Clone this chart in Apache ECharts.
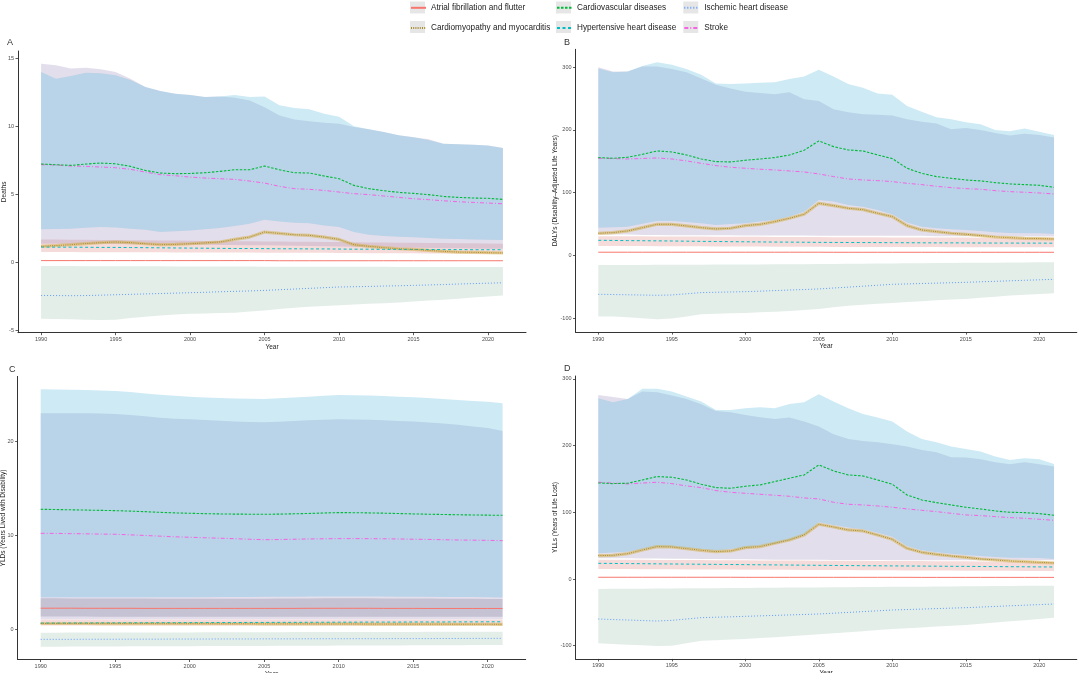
<!DOCTYPE html>
<html>
<head>
<meta charset="utf-8">
<script src="https://cdn.jsdelivr.net/npm/echarts@6/dist/echarts.min.js"></script>
<style>
  html, body { margin: 0; padding: 0; background: #fff; }
  #chart { width: 1080px; height: 673px; }
</style>
</head>
<body>
<div id="chart"></div>
<script>
const years = [1990,1991,1992,1993,1994,1995,1996,1997,1998,1999,2000,2001,2002,2003,2004,2005,2006,2007,2008,2009,2010,2011,2012,2013,2014,2015,2016,2017,2018,2019,2020,2021];
const xTicks = [1990, 1995, 2000, 2005, 2010, 2015, 2020];

const causes = ['Atrial fibrillation and flutter', 'Cardiomyopathy and myocarditis', 'Cardiovascular diseases',
  'Hypertensive heart disease', 'Ischemic heart disease', 'Stroke'];

// A: Deaths
const aAtrial = [0.13,0.13,0.13,0.13,0.13,0.13,0.13,0.13,0.13,0.13,0.13,0.13,0.13,0.13,0.13,0.13,0.12,0.12,0.12,0.12,0.12,0.12,0.12,0.12,0.12,0.12,0.12,0.12,0.12,0.12,0.12,0.12];
const aCardio = [1.18,1.24,1.30,1.38,1.45,1.50,1.45,1.37,1.30,1.32,1.37,1.43,1.50,1.69,1.86,2.23,2.13,2.03,1.99,1.86,1.69,1.30,1.18,1.08,1.00,0.96,0.88,0.81,0.76,0.74,0.71,0.69];
const aCvd = [7.23,7.18,7.13,7.23,7.30,7.25,7.06,6.76,6.57,6.52,6.54,6.59,6.69,6.81,6.81,7.08,6.81,6.59,6.57,6.35,6.15,5.66,5.42,5.27,5.15,5.07,4.98,4.85,4.78,4.73,4.71,4.63];
const aHyp = [1.13,1.12,1.12,1.11,1.10,1.10,1.09,1.08,1.07,1.06,1.05,1.04,1.03,1.02,1.02,1.01,1.00,1.00,0.99,0.99,0.98,0.97,0.97,0.96,0.96,0.95,0.95,0.94,0.94,0.93,0.93,0.93];
const aIsch = [-2.43,-2.44,-2.45,-2.44,-2.41,-2.38,-2.35,-2.32,-2.29,-2.26,-2.23,-2.20,-2.16,-2.13,-2.10,-2.06,-2.01,-1.96,-1.91,-1.86,-1.81,-1.79,-1.77,-1.74,-1.72,-1.69,-1.66,-1.63,-1.59,-1.56,-1.53,-1.50];
const aStroke = [7.18,7.16,7.08,7.06,7.01,6.96,6.84,6.64,6.45,6.37,6.27,6.20,6.15,6.10,5.98,5.83,5.59,5.42,5.37,5.29,5.17,5.05,4.98,4.88,4.78,4.68,4.61,4.53,4.46,4.41,4.36,4.31];
const aCvdHi = [14.0,13.5,13.7,13.95,13.9,13.75,13.4,12.9,12.6,12.4,12.3,12.15,12.2,12.3,12.15,12.2,11.55,11.35,11.25,10.93,10.7,10.0,9.78,9.58,9.34,9.2,9.0,8.73,8.68,8.65,8.6,8.4];
const aCvdLo = [2.43,2.45,2.48,2.54,2.60,2.57,2.48,2.40,2.23,2.28,2.35,2.44,2.52,2.67,2.84,3.14,3.01,2.92,2.87,2.72,2.60,2.23,2.03,1.94,1.89,1.84,1.79,1.74,1.72,1.69,1.67,1.64];
const aStrokeHi = [14.6,14.5,14.25,14.3,14.2,14.0,13.5,12.9,12.6,12.4,12.3,12.15,12.2,12.1,11.9,11.4,10.8,10.5,10.37,10.27,10.2,9.95,9.78,9.58,9.34,9.2,9.05,8.73,8.68,8.65,8.6,8.4];
const aStrokeLo = [1.37,1.37,1.36,1.36,1.35,1.35,1.34,1.33,1.32,1.31,1.30,1.29,1.28,1.27,1.26,1.25,1.24,1.22,1.20,1.18,1.16,1.14,1.12,1.10,1.08,1.07,1.05,1.04,1.03,1.02,1.01,1.00];
const aHypHi = [1.69,1.68,1.67,1.66,1.65,1.64,1.63,1.62,1.61,1.60,1.59,1.58,1.57,1.56,1.55,1.54,1.53,1.52,1.51,1.50,1.49,1.48,1.47,1.46,1.45,1.44,1.43,1.42,1.41,1.40,1.38,1.37];
const aHypLo = [0.76,0.76,0.76,0.75,0.75,0.75,0.74,0.74,0.74,0.73,0.73,0.73,0.72,0.72,0.72,0.71,0.71,0.70,0.70,0.70,0.69,0.69,0.68,0.68,0.67,0.67,0.66,0.66,0.65,0.65,0.64,0.64];
const aIschHi = [-0.27,-0.27,-0.27,-0.28,-0.28,-0.28,-0.29,-0.29,-0.29,-0.30,-0.30,-0.30,-0.31,-0.31,-0.31,-0.32,-0.32,-0.32,-0.32,-0.33,-0.33,-0.33,-0.33,-0.33,-0.34,-0.34,-0.34,-0.34,-0.34,-0.34,-0.34,-0.34];
const aIschLo = [-4.14,-4.16,-4.19,-4.22,-4.23,-4.22,-4.09,-4.00,-3.90,-3.83,-3.77,-3.75,-3.72,-3.70,-3.62,-3.53,-3.43,-3.33,-3.27,-3.21,-3.16,-3.10,-3.05,-3.00,-2.95,-2.87,-2.80,-2.74,-2.67,-2.59,-2.51,-2.43];

// B: DALYs
const bAtrial = [4.9,4.9,4.9,4.9,4.9,4.9,4.9,4.9,4.9,4.9,4.9,4.9,4.9,4.9,4.9,4.9,4.8,4.8,4.8,4.8,4.8,4.8,4.8,4.8,4.8,4.8,4.8,4.8,4.8,4.8,4.8,4.8];
const bCardio = [35.1,36.2,38.8,44.1,49.4,49.4,46.8,44.1,42.0,43.1,47.3,49.4,53.7,59.0,65.4,82.9,79.2,75.0,72.8,67.0,61.7,47.3,40.4,37.7,35.1,33.5,31.4,29.2,28.2,27.1,26.6,26.0];
const bCvd = [155.8,154.7,156.3,161.0,166.4,164.8,160.0,153.6,149.4,148.9,151.5,153.6,155.8,160.0,167.5,182.4,173.3,168.0,166.4,160.0,154.2,138.8,130.8,125.5,122.8,120.1,118.6,115.9,113.8,112.7,111.6,108.5];
const bHyp = [23.9,23.7,23.4,23.2,23.0,22.8,22.5,22.2,22.0,21.7,21.5,21.3,21.1,21.0,20.8,20.6,20.5,20.4,20.3,20.2,20.1,20.0,19.9,19.8,19.8,19.7,19.6,19.5,19.5,19.4,19.4,19.3];
const bIsch = [-62.2,-62.6,-63.0,-63.4,-63.8,-63.3,-61.4,-59.5,-59.0,-58.5,-58.0,-57.2,-56.3,-55.4,-54.6,-53.7,-52.2,-50.8,-49.3,-47.8,-46.3,-45.7,-45.0,-44.4,-43.8,-43.1,-42.3,-41.5,-40.7,-39.9,-39.1,-38.3];
const bStroke = [154.7,154.2,153.6,154.4,155.2,153.6,150.5,146.7,143.0,140.4,138.8,137.2,136.1,134.5,132.9,129.7,125.5,121.7,120.1,119.1,117.5,114.8,112.7,110.0,107.9,106.3,105.3,103.1,101.5,100.5,99.4,97.8];
const bCvdHi = [298,292,293,302,308,304,297,288,274,273,274,275,276,281,285,296,285,273,267,258,256,238,229,220,217,212,209,200,198,202,197,192];
const bCvdLo = [44.1,44.9,45.7,50.2,54.8,54.8,53.0,51.0,48.4,49.7,51.0,53.7,56.4,61.7,69.6,88.3,85.6,80.3,77.6,72.3,65.4,52.1,45.7,43.1,41.5,40.4,38.8,36.7,35.6,35.1,35.1,34.0];
const bStrokeHi = [300,293,293,301,301,297,292,282,272,266,261,259,257,260,249,246,233,228,225,224,223,217,213,210,201,203,200,195,191,194,192,188];
const bStrokeLo = [33,33,33,32.5,32.5,32,32,32,32,32,31.5,31.5,31.5,31.5,31.5,31,31,31,31,31,31,31,31,30.5,30.5,30.5,30.5,30,30,30,30,30];
const bHypHi = [30.5,30.4,30.3,30.2,30.1,30.0,29.9,29.8,29.7,29.6,29.5,29.4,29.3,29.2,29.1,29.0,28.9,28.8,28.7,28.6,28.5,28.4,28.3,28.3,28.2,28.2,28.1,28.1,28.0,28.0,28.0,28.0];
const bHypLo = [15.0,14.9,14.8,14.7,14.6,14.5,14.4,14.3,14.2,14.1,14.0,13.9,13.8,13.7,13.6,13.5,13.4,13.4,13.3,13.3,13.2,13.2,13.1,13.1,13.0,13.0,12.9,12.9,12.8,12.8,12.8,12.8];
const bIschHi = [-15.4,-15.4,-15.3,-15.3,-15.2,-15.1,-15.0,-14.9,-14.8,-14.7,-14.6,-14.5,-14.4,-14.3,-14.1,-14.0,-13.8,-13.6,-13.4,-13.2,-13.0,-12.8,-12.6,-12.4,-12.2,-12.1,-11.9,-11.8,-11.6,-11.5,-11.3,-11.2];
const bIschLo = [-97.8,-97.8,-99.0,-100.5,-102.0,-101.0,-97.8,-94.0,-93.3,-92.6,-92.0,-91.0,-89.9,-88.8,-87.2,-85.6,-83.0,-80.3,-78.9,-77.4,-76.0,-74.6,-73.2,-71.8,-70.7,-69.6,-67.8,-66.1,-64.3,-63.1,-61.8,-60.6];

// C: YLDs
const cAtrial = [2.25,2.25,2.25,2.24,2.24,2.24,2.24,2.23,2.23,2.23,2.23,2.23,2.23,2.23,2.23,2.23,2.23,2.23,2.24,2.24,2.24,2.24,2.24,2.23,2.23,2.23,2.22,2.22,2.22,2.22,2.22,2.22];
const cCardio = [0.62,0.62,0.62,0.62,0.61,0.61,0.61,0.61,0.60,0.60,0.60,0.60,0.59,0.59,0.59,0.58,0.58,0.58,0.58,0.57,0.57,0.57,0.56,0.56,0.56,0.55,0.55,0.55,0.54,0.54,0.54,0.53];
const cCvd = [12.79,12.77,12.74,12.71,12.68,12.65,12.6,12.54,12.47,12.41,12.37,12.33,12.30,12.28,12.27,12.26,12.28,12.31,12.35,12.40,12.44,12.43,12.41,12.38,12.34,12.30,12.27,12.24,12.21,12.19,12.17,12.15];
const cHyp = [0.66,0.66,0.67,0.67,0.68,0.68,0.69,0.69,0.70,0.70,0.71,0.71,0.72,0.72,0.73,0.73,0.74,0.74,0.75,0.75,0.76,0.76,0.77,0.77,0.77,0.78,0.78,0.78,0.79,0.79,0.80,0.80];
const cIsch = [-1.07,-1.07,-1.07,-1.06,-1.06,-1.06,-1.05,-1.05,-1.05,-1.04,-1.04,-1.04,-1.03,-1.03,-1.03,-1.02,-1.02,-1.02,-1.01,-1.01,-1.01,-1.00,-1.00,-1.00,-0.99,-0.99,-0.99,-0.98,-0.98,-0.97,-0.97,-0.96];
const cStroke = [10.23,10.22,10.2,10.18,10.15,10.13,10.07,10.0,9.93,9.86,9.81,9.76,9.71,9.66,9.6,9.55,9.57,9.6,9.63,9.65,9.67,9.67,9.66,9.65,9.63,9.6,9.58,9.55,9.52,9.5,9.48,9.45];
const cCvdHi = [25.59,25.57,25.54,25.5,25.45,25.41,25.3,25.15,25.0,24.9,24.8,24.7,24.65,24.6,24.58,24.56,24.62,24.7,24.8,24.9,24.98,24.96,24.93,24.88,24.8,24.73,24.65,24.55,24.45,24.35,24.27,24.09];
const cCvdLo = [3.42,3.42,3.42,3.42,3.42,3.42,3.42,3.42,3.42,3.42,3.42,3.42,3.43,3.44,3.45,3.46,3.47,3.48,3.49,3.50,3.50,3.50,3.50,3.49,3.48,3.47,3.46,3.45,3.44,3.43,3.42,3.40];
const cStrokeHi = [23.03,23.04,23.04,23.02,23.0,22.96,22.85,22.7,22.55,22.45,22.39,22.3,22.22,22.15,22.1,22.07,22.12,22.2,22.28,22.35,22.39,22.37,22.33,22.28,22.2,22.14,22.05,21.95,21.8,21.61,21.45,21.14];
const cStrokeLo = [1.08,1.08,1.08,1.08,1.07,1.07,1.07,1.07,1.07,1.07,1.07,1.07,1.07,1.07,1.07,1.07,1.07,1.07,1.07,1.07,1.07,1.07,1.07,1.07,1.07,1.07,1.06,1.06,1.06,1.06,1.06,1.06];
const cAtrialHi = [3.30,3.30,3.29,3.29,3.28,3.28,3.27,3.27,3.26,3.26,3.26,3.26,3.26,3.26,3.26,3.26,3.27,3.28,3.29,3.30,3.30,3.30,3.30,3.29,3.28,3.27,3.27,3.26,3.25,3.25,3.24,3.24];
const cAtrialLo = [1.36,1.36,1.36,1.36,1.35,1.35,1.35,1.35,1.35,1.35,1.35,1.35,1.35,1.35,1.35,1.35,1.35,1.35,1.35,1.35,1.35,1.35,1.35,1.35,1.35,1.35,1.34,1.34,1.34,1.34,1.34,1.34];
const cHypHi = [1.05,1.05,1.05,1.05,1.05,1.05,1.05,1.05,1.05,1.05,1.05,1.05,1.05,1.05,1.05,1.05,1.05,1.05,1.05,1.05,1.05,1.05,1.05,1.05,1.05,1.05,1.05,1.05,1.05,1.05,1.05,1.05];
const cHypLo = [0.40,0.40,0.40,0.40,0.40,0.40,0.40,0.40,0.40,0.40,0.40,0.40,0.40,0.40,0.40,0.40,0.40,0.40,0.40,0.40,0.40,0.40,0.40,0.40,0.40,0.40,0.40,0.40,0.40,0.40,0.40,0.40];
const cIschHi = [-0.36,-0.36,-0.35,-0.35,-0.35,-0.34,-0.34,-0.34,-0.33,-0.33,-0.33,-0.32,-0.32,-0.32,-0.31,-0.31,-0.31,-0.30,-0.30,-0.30,-0.29,-0.29,-0.29,-0.28,-0.28,-0.28,-0.27,-0.27,-0.26,-0.26,-0.25,-0.25];
const cIschLo = [-1.85,-1.85,-1.84,-1.84,-1.83,-1.83,-1.82,-1.82,-1.81,-1.81,-1.80,-1.79,-1.79,-1.78,-1.78,-1.77,-1.76,-1.76,-1.75,-1.75,-1.74,-1.73,-1.73,-1.72,-1.72,-1.71,-1.70,-1.70,-1.69,-1.68,-1.68,-1.67];

// D: YLLs
const dAtrial = [2.6,2.6,2.6,2.6,2.6,2.6,2.6,2.6,2.6,2.6,2.5,2.5,2.5,2.5,2.5,2.5,2.5,2.5,2.5,2.5,2.5,2.5,2.4,2.4,2.4,2.4,2.4,2.4,2.4,2.4,2.4,2.4];
const dCardio = [35,35.5,38,43.5,48.5,48,45.5,43,41,42,47,48.5,53.5,58.5,66,82,78,73.5,72,66,59.5,46,40,37,34.5,32.5,30,28.5,27,26,25,24];
const dCvd = [144,143,143.5,148.5,153.5,152.5,148.5,142,137,136,139,141,146,151,156,171,162,156,154.5,148.5,142,126,118.5,114.5,111,107.5,105,102,100,99.5,98,95.5];
const dHyp = [23.5,23.3,23.1,22.9,22.7,22.5,22.3,22.1,21.9,21.7,21.5,21.3,21.1,20.9,20.7,20.5,20.3,20.1,19.9,19.8,19.6,19.5,19.3,19.2,19.0,18.9,18.7,18.6,18.4,18.3,18.1,18.0];
const dIsch = [-60.0,-60.8,-61.5,-62.3,-63.0,-62.0,-60.0,-58.0,-57.3,-56.7,-56.0,-55.3,-54.6,-53.9,-53.2,-52.5,-51.3,-50.1,-48.9,-47.7,-46.5,-45.8,-45.1,-44.4,-43.7,-43.0,-42.1,-41.2,-40.2,-39.3,-38.4,-37.5];
const dStroke = [145,143.8,142.5,143.8,145,143,139.5,137,132.5,130,128.5,127,125.5,124,121.5,120,115,112,111,109.5,107.5,105,103,101,98.5,96,95,93.5,92,91,89.5,88];
const dCvdHi = [271,265,270,285,285,281,273.5,266,253.5,253.5,256,257.5,256,262.5,265,277,266,256,247.5,242,236,221,210,205,198.5,195,191,183.5,178.5,181,179.5,172.5];
const dCvdLo = [38.5,39.8,41,44.8,48.5,48.5,46.5,44.5,42.5,44.8,47,50,53,58.5,66,85,81,77,74.5,69.5,63.5,49.5,43,40,38,36,34.5,33,32,32,31.5,30];
const dStrokeHi = [276,273,270,281,280,275,270,262,252,250,246,242.5,240,242,236,228.5,217,210,207,205,202,198.5,193.5,190,182.5,182,179.5,175,172,175,172,168.5];
const dStrokeLo = [31,31,31,30.8,30.6,30.4,30.2,30,29.8,29.6,29.4,29.2,29.0,28.9,28.8,28.7,28.6,28.5,28.4,28.3,28.2,28.1,28.0,28.0,28.0,28.0,28.0,28.0,28.0,28.0,28.0,28.0];
const dHypHi = [29.0,28.9,28.8,28.7,28.6,28.5,28.4,28.3,28.2,28.1,28.0,27.9,27.8,27.7,27.6,27.5,27.4,27.3,27.2,27.1,27.0,26.9,26.8,26.7,26.6,26.5,26.4,26.3,26.2,26.1,26.0,26.0];
const dHypLo = [15.0,14.9,14.8,14.7,14.6,14.5,14.4,14.3,14.2,14.1,14.0,13.9,13.8,13.7,13.6,13.5,13.4,13.3,13.2,13.1,13.0,12.9,12.8,12.7,12.6,12.5,12.4,12.3,12.2,12.1,12.0,12.0];
const dIschHi = [-15.0,-14.8,-14.7,-14.5,-14.4,-14.2,-14.0,-13.9,-13.7,-13.5,-13.4,-13.2,-13.1,-12.9,-12.7,-12.6,-12.4,-12.3,-12.1,-11.9,-11.8,-11.6,-11.5,-11.3,-11.1,-11.0,-10.8,-10.6,-10.5,-10.3,-10.2,-10.0];
const dIschLo = [-96.5,-97.5,-98.5,-99.5,-100.5,-100.0,-96.3,-92.5,-91.7,-90.8,-90.0,-88.6,-87.2,-85.8,-84.4,-83.0,-81.4,-79.8,-78.2,-76.6,-75.0,-73.8,-72.6,-71.4,-70.2,-69.0,-67.2,-65.3,-63.5,-61.7,-59.8,-58.0];

const FONT = '"Liberation Sans", Arial, Helvetica, sans-serif';

const lineColors = {
  atrial: '#F8766D', cardio: '#B79F00', cvd: '#00BA38',
  hyp: '#00BFC4', isch: '#619CFF', stroke: '#F564E3'
};
const bandColors = {
  cvd: 'rgba(88,185,222,0.3)', stroke: 'rgba(162,145,192,0.3)',
  hyp: 'rgba(222,138,135,0.3)', isch: 'rgba(162,198,178,0.3)',
  atrial: 'rgba(130,129,153,0.3)'
};

const pairs = vals => years.map((y, i) => [y, vals[i]]);

// uncertainty ribbon: one polygon through the upper bound and back along the lower bound
function band(gi, key, lo, hi, color) {
  return {
    type: 'custom', name: key + '-band', xAxisIndex: gi, yAxisIndex: gi, silent: true, z: 1,
    data: years.map((y, i) => [y, lo[i], hi[i]]),
    encode: { x: 0, y: [1, 2] },
    renderItem: function (params, api) {
      if (params.dataIndex !== 0) return null;
      const top = years.map((y, i) => api.coord([y, hi[i]]));
      const bottom = years.map((y, i) => api.coord([y, lo[i]])).reverse();
      return { type: 'polygon', shape: { points: top.concat(bottom) }, style: { fill: color } };
    }
  };
}

function line(gi, name, vals, color, type, width) {
  return {
    type: 'line', name: name, xAxisIndex: gi, yAxisIndex: gi, data: pairs(vals),
    symbol: 'none', z: 3, silent: true,
    lineStyle: { color: color, width: width, type: type }, itemStyle: { color: color }
  };
}

function halo(gi, vals) {
  return {
    type: 'line', name: 'cardio-halo', xAxisIndex: gi, yAxisIndex: gi, data: pairs(vals),
    symbol: 'none', z: 2, silent: true,
    lineStyle: { color: 'rgba(214,178,80,0.55)', width: 3.2 }
  };
}

function panelSeries(gi, d) {
  const s = [
    band(gi, 'isch', d.ischLo, d.ischHi, bandColors.isch),
    band(gi, 'hyp', d.hypLo, d.hypHi, bandColors.hyp),
    band(gi, 'stroke', d.strokeLo, d.strokeHi, bandColors.stroke)
  ];
  if (d.atrialLo) s.push(band(gi, 'atrial', d.atrialLo, d.atrialHi, bandColors.atrial));
  s.push(band(gi, 'cvd', d.cvdLo, d.cvdHi, bandColors.cvd));
  s.push(halo(gi, d.cardio));
  s.push(line(gi, causes[0], d.atrial, lineColors.atrial, 'solid', 1));
  s.push(line(gi, causes[3], d.hyp, lineColors.hyp, [3, 2.5], 1));
  s.push(line(gi, causes[1], d.cardio, '#a88a2a', [1, 1.2], 1));
  s.push(line(gi, causes[4], d.isch, lineColors.isch, [1, 2], 1));
  s.push(line(gi, causes[5], d.stroke, lineColors.stroke, [4, 2, 1, 2], 1));
  s.push(line(gi, causes[2], d.cvd, lineColors.cvd, [2.5, 1.5], 1.1));
  return s;
}

const series = [].concat(
  panelSeries(0, { atrial: aAtrial, cardio: aCardio, cvd: aCvd, hyp: aHyp, isch: aIsch, stroke: aStroke,
    cvdLo: aCvdLo, cvdHi: aCvdHi, strokeLo: aStrokeLo, strokeHi: aStrokeHi, hypLo: aHypLo, hypHi: aHypHi,
    ischLo: aIschLo, ischHi: aIschHi }),
  panelSeries(1, { atrial: bAtrial, cardio: bCardio, cvd: bCvd, hyp: bHyp, isch: bIsch, stroke: bStroke,
    cvdLo: bCvdLo, cvdHi: bCvdHi, strokeLo: bStrokeLo, strokeHi: bStrokeHi, hypLo: bHypLo, hypHi: bHypHi,
    ischLo: bIschLo, ischHi: bIschHi }),
  panelSeries(2, { atrial: cAtrial, cardio: cCardio, cvd: cCvd, hyp: cHyp, isch: cIsch, stroke: cStroke,
    cvdLo: cCvdLo, cvdHi: cCvdHi, strokeLo: cStrokeLo, strokeHi: cStrokeHi, hypLo: cHypLo, hypHi: cHypHi,
    ischLo: cIschLo, ischHi: cIschHi, atrialLo: cAtrialLo, atrialHi: cAtrialHi }),
  panelSeries(3, { atrial: dAtrial, cardio: dCardio, cvd: dCvd, hyp: dHyp, isch: dIsch, stroke: dStroke,
    cvdLo: dCvdLo, cvdHi: dCvdHi, strokeLo: dStrokeLo, strokeHi: dStrokeHi, hypLo: dHypLo, hypHi: dHypHi,
    ischLo: dIschLo, ischHi: dIschHi })
);

// fixed plot boxes, as in the source figure; axis titles may run off the bottom edge
const grids = [
  { left: 18, right: 554, top: 51, bottom: 340.3, outerBoundsMode: 'none' },
  { left: 575.5, right: 3.2, top: 49.3, bottom: 340.9, outerBoundsMode: 'none' },
  { left: 17.6, right: 554.3, top: 376.4, bottom: 13.5, outerBoundsMode: 'none' },
  { left: 575.5, right: 3.2, top: 376, bottom: 14.1, outerBoundsMode: 'none' }
];

const yRanges = [
  { min: -5.17, max: 15.54, ticks: [-5, 0, 5, 10, 15], name: 'Deaths', gap: 10.5 },
  { min: -122.5, max: 328.5, ticks: [-100, 0, 100, 200, 300], name: 'DALYs (Disability–Adjusted Life Years)', gap: 17 },
  { min: -3.22, max: 26.96, ticks: [0, 10, 20], name: 'YLDs (Years Lived with Disability)', gap: 10.5 },
  { min: -119.8, max: 304.3, ticks: [-100, 0, 100, 200, 300], name: 'YLLs (Years of Life Lost)', gap: 17 }
];

const axisLineStyle = { color: '#333', width: 1 };

const xAxes = grids.map((g, i) => ({
  gridIndex: i, type: 'value', min: 1988.45, max: 2022.55,
  axisLine: { show: true, onZero: false, lineStyle: axisLineStyle },
  axisTick: { show: true, length: 2.5, lineStyle: { color: '#333', width: 0.8 }, customValues: xTicks },
  axisLabel: { customValues: xTicks, fontSize: 5.5, color: '#4d4d4d', margin: 4, fontFamily: FONT, formatter: v => String(v) },
  splitLine: { show: false },
  name: 'Year', nameLocation: 'middle', nameGap: 11,
  nameTextStyle: { fontSize: 6.5, color: '#222', fontFamily: FONT }
}));

const yAxes = yRanges.map((r, i) => ({
  gridIndex: i, type: 'value', min: r.min, max: r.max,
  axisLine: { show: true, onZero: false, lineStyle: axisLineStyle },
  axisTick: { show: true, length: 2.5, lineStyle: { color: '#333', width: 0.8 }, customValues: r.ticks },
  axisLabel: { customValues: r.ticks, fontSize: 5.5, color: '#4d4d4d', margin: 4, fontFamily: FONT, formatter: v => String(v) },
  splitLine: { show: false },
  name: r.name, nameLocation: 'middle', nameGap: r.gap, nameRotate: 90, nameMoveOverlap: false,
  nameTextStyle: { fontSize: 6.5, color: '#222', fontFamily: FONT }
}));

const legendBase = {
  orient: 'vertical', top: 3, padding: 0, itemWidth: 15, itemHeight: 12, itemGap: 10.5,
  selectedMode: false, itemStyle: { opacity: 0 },
  textStyle: { fontSize: 8.2, color: '#222', fontFamily: FONT }
};
const legendCols = [
  { left: 410, data: [causes[0], causes[1]] },
  { left: 556, data: [causes[2], causes[3]] },
  { left: 683.3, data: [causes[4], causes[5]] }
];

const keyBoxes = [];
legendCols.forEach(c => {
  [1.5, 21].forEach(t => {
    keyBoxes.push({ type: 'rect', left: c.left, top: t, shape: { width: 15, height: 12 }, style: { fill: '#e6e6e6' }, z: -1 });
  });
});

const tags = [
  { text: 'A', left: 7, top: 38 },
  { text: 'B', left: 564, top: 38 },
  { text: 'C', left: 9, top: 365 },
  { text: 'D', left: 564, top: 364 }
].map(t => ({ type: 'text', left: t.left, top: t.top, style: { text: t.text, fontSize: 9, fill: '#333', fontFamily: FONT } }));

const chart = echarts.init(document.getElementById('chart'), null, { renderer: 'canvas' });
chart.setOption({
  animation: false,
  backgroundColor: '#fff',
  textStyle: { fontFamily: FONT },
  grid: grids,
  xAxis: xAxes,
  yAxis: yAxes,
  legend: legendCols.map(c => Object.assign({}, legendBase, c)),
  graphic: keyBoxes.concat(tags),
  series: series
});
</script>
</body>
</html>
